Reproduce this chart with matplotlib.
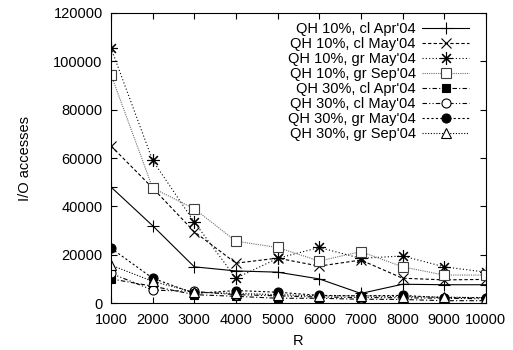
import matplotlib

matplotlib.use("Agg")
import matplotlib.pyplot as plt

R = [1000, 2000, 3000, 4000, 5000, 6000, 7000, 8000, 9000, 10000]

qh10_cl_apr = [48000, 32000, 15000, 13300, 12800, 10000, 4000, 7800, 7600, 7600]
qh10_cl_may = [65000, 47600, 29500, 16500, 18600, 15300, 17800, 10300, 9600, 9800]
qh10_gr_may = [105500, 59000, 33500, 10300, 18500, 23000, 18500, 19500, 15000, 12800]
qh10_gr_sep = [94500, 47600, 39000, 25600, 23000, 17400, 21300, 15000, 11600, 11600]
qh30_cl_apr = [10000, 7000, 3500, 2800, 2000, 2000, 1600, 1500, 1000, 1000]
qh30_cl_may = [12300, 5400, 4800, 3500, 3000, 2500, 2300, 2200, 2000, 1800]
qh30_gr_may = [22700, 10300, 4000, 5200, 4500, 3200, 3000, 3200, 2200, 2300]
qh30_gr_sep = [15700, 9000, 4500, 4000, 3500, 3000, 3000, 2700, 2500, 2200]

labels = [
    "QH 10%, cl Apr'04",
    "QH 10%, cl May'04",
    "QH 10%, gr May'04",
    "QH 10%, gr Sep'04",
    "QH 30%, cl Apr'04",
    "QH 30%, cl May'04",
    "QH 30%, gr May'04",
    "QH 30%, gr Sep'04",
]
series = [qh10_cl_apr, qh10_cl_may, qh10_gr_may, qh10_gr_sep,
          qh30_cl_apr, qh30_cl_may, qh30_gr_may, qh30_gr_sep]

# gnuplot-ish monochrome styles
styles = [
    dict(color="black", ls="-", marker="+", ms=9, mfc="black"),
    dict(color="black", ls=(0, (3, 2)), marker="x", ms=7, mfc="black"),
    dict(color="black", ls=(0, (1, 2)), marker=(8, 2, 0), ms=9, mfc="black"),
    dict(color="#707070", ls=(0, (1, 1)), marker="s", ms=7, mfc="white", mec="#404040"),
    dict(color="black", ls=(0, (4, 2, 1, 2)), marker="s", ms=6, mfc="black"),
    dict(color="black", ls=(0, (4, 2, 1, 2, 1, 2)), marker="o", ms=6.5, mfc="white"),
    dict(color="black", ls=(0, (2, 2)), marker="o", ms=6.5, mfc="black"),
    dict(color="black", ls=(0, (1, 1.5)), marker="^", ms=6.5, mfc="white"),
]

plt.rcParams.update({
    "font.family": ["Liberation Sans", "DejaVu Sans"],
    "font.size": 10.5,
    "axes.linewidth": 0.8,
})

fig = plt.figure(figsize=(5.13, 3.5), dpi=100)
ax = fig.add_axes([0.2164, 0.134, 0.7306, 0.829])

for ys, lab, st in zip(series, labels, styles):
    ax.plot(R, ys, color=st["color"], linestyle=st["ls"], linewidth=0.8,
            marker=st["marker"], markersize=st["ms"], markerfacecolor=st["mfc"],
            markeredgecolor=st.get("mec", "black"), markeredgewidth=0.8,
            label=lab)

ax.set_xlim(1000, 10000)
ax.set_ylim(0, 120000)
ax.set_xticks(R)
ax.set_yticks(range(0, 120001, 20000))
ax.tick_params(direction="in", top=True, right=True, length=4, width=0.8,
               labelsize=10.5)
ax.tick_params(axis="y", pad=6)
ax.tick_params(axis="x", pad=7)
ax.set_xlabel("R", fontsize=10.5, labelpad=5)
ax.set_ylabel("I/O accesses", fontsize=10.5, labelpad=15)

ax.legend(loc="upper right", bbox_to_anchor=(0.982, 1.005), frameon=False,
          markerfirst=False, handlelength=3.2, handletextpad=0.45,
          labelspacing=0.07, borderpad=0.2, fontsize=10.5)

fig.savefig("out.png", dpi=100)
